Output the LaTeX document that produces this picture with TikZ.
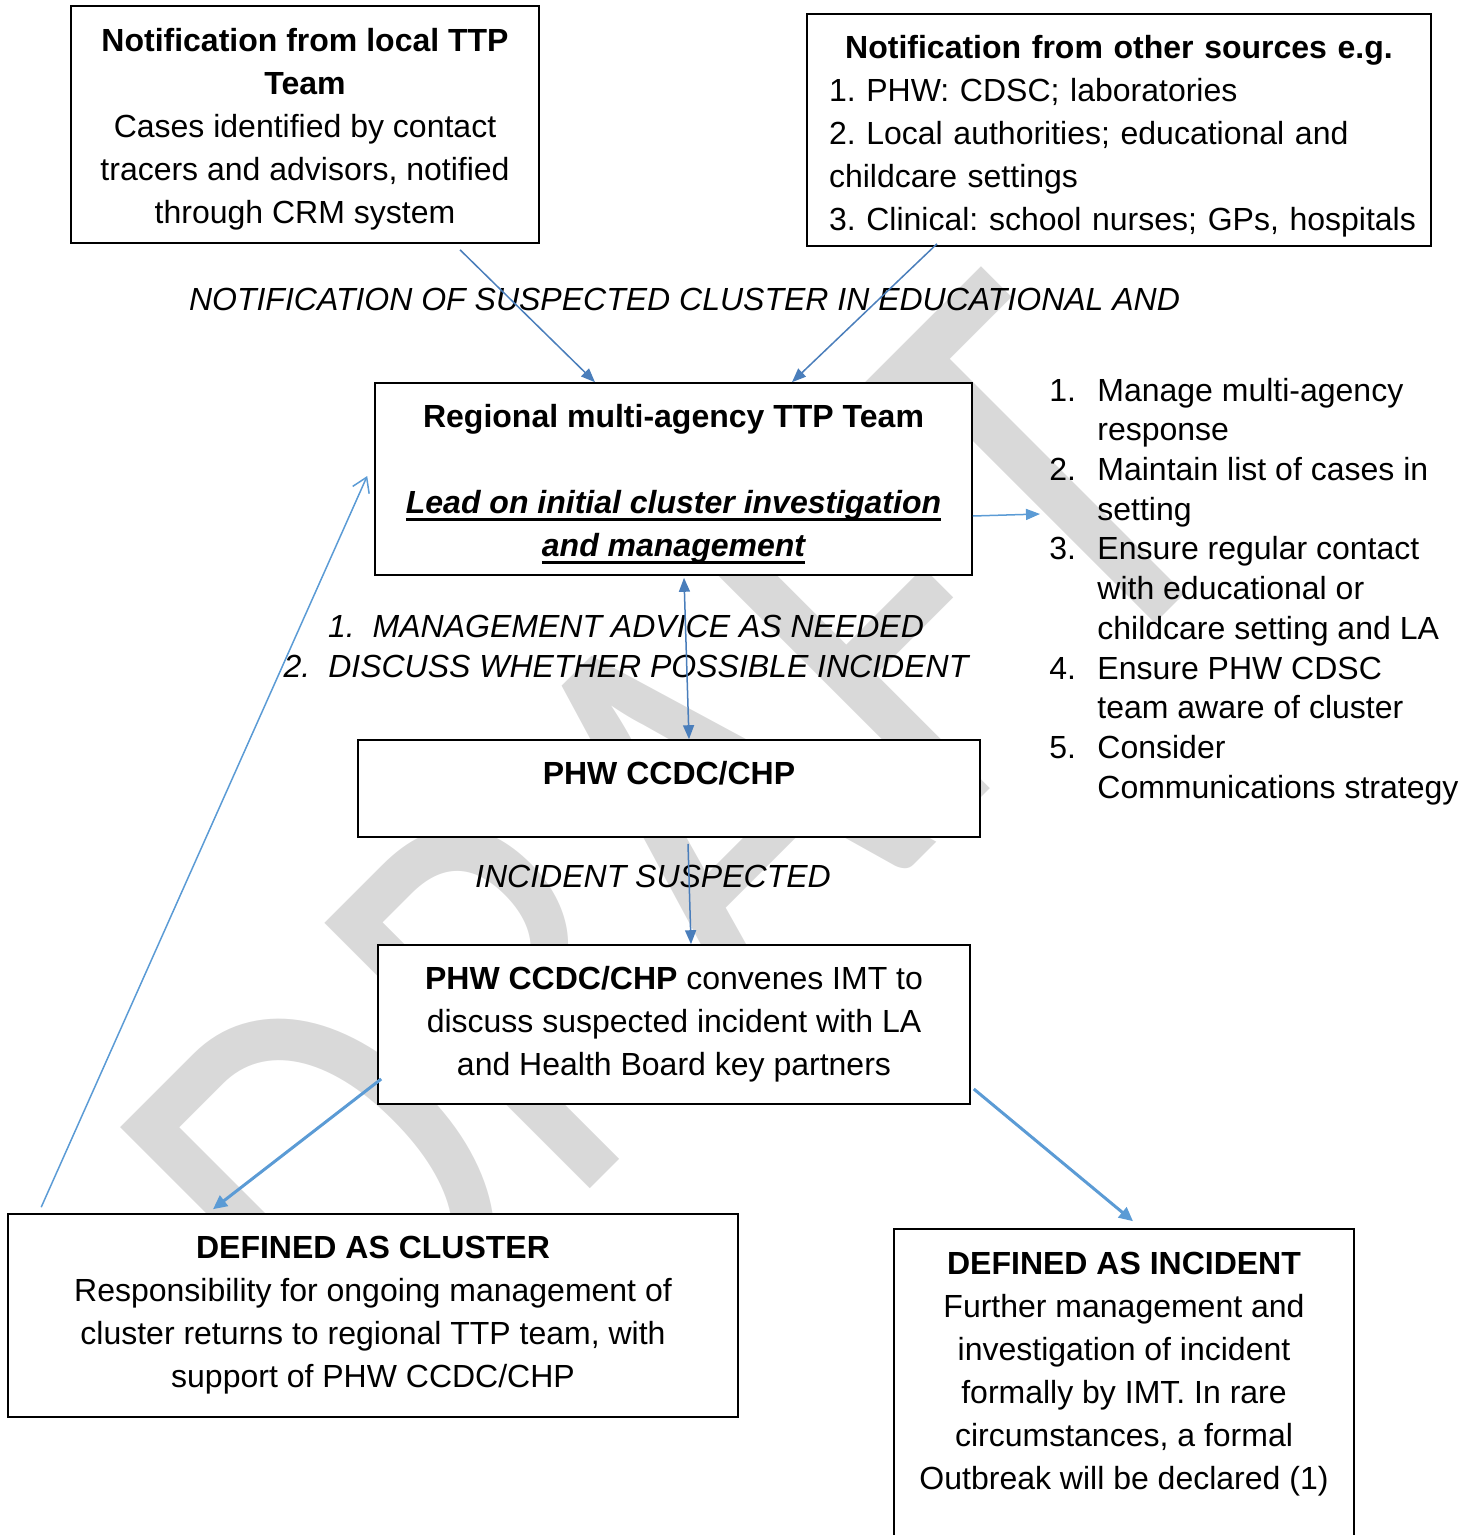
\documentclass[tikz,border=0pt]{standalone}
\usepackage{fontspec}
\setmainfont{Liberation Sans}
\newfontfamily\wmfont{Carlito}
\usetikzlibrary{arrows.meta}
\frenchspacing
\hyphenpenalty=10000

\definecolor{linkblue}{RGB}{74,126,187}
\definecolor{paleblue}{RGB}{91,155,213}

\tikzset{
  box/.style={draw, line width=0.8pt, fill=white, align=center, inner sep=0pt,
    font=\fontsize{16}{21.5}\selectfont},
  note/.style={align=center, inner sep=0pt, font=\fontsize{16}{21.5}\selectfont\itshape},
  thinarrow/.style={linkblue, line width=0.75pt, -{Triangle[length=7pt,width=5.5pt]}},
  twoway/.style={linkblue, line width=0.75pt,
    {Triangle[length=7pt,width=5.5pt]}-{Triangle[length=7pt,width=5.5pt]}},
  thickarrow/.style={paleblue, line width=1.5pt, -{Triangle[length=7pt,width=6.5pt]}},
}
\newsavebox{\leadbox}
\newcommand{\leadline}[1]{\textbf{\textit{\sbox{\leadbox}{#1}\rlap{\rule[-3.5pt]{\wd\leadbox}{1.5pt}}\usebox{\leadbox}}}}

\begin{document}
\begin{tikzpicture}[x=0.5pt, y=-0.5pt]
  \useasboundingbox (0,0) rectangle (1475,1535);
  \clip (0,0) rectangle (1475,1535);

  % watermark
  \node[anchor=base west, rotate=45, yscale=1.25, inner sep=0pt, text=black!15,
    font=\wmfont\fontsize{234}{234}\selectfont] (draft) at (363,1416) {DRAFT};

  \node[box, minimum width=234pt, minimum height=118.5pt] (local) at (305,124.5)
    {\rule{0pt}{16.7pt}\textbf{Notification from local TTP}\\\textbf{Team}\\Cases identified by contact\\
     tracers and advisors, notified\\through CRM system};

  \node[box, minimum width=312pt, minimum height=116pt, text width=290pt, align=left] (other) at (1119,130)
    {\rule{0pt}{17.5pt}\hfill\textbf{Notification from other sources e.g.}\hfill\null\\
     1. PHW: CDSC; laboratories\\
     2. Local authorities; educational and\\
     childcare settings\\
     \mbox{3. Clinical: school nurses; GPs, hospitals}};

  \node[note] (suspect) at (684.5,299) {NOTIFICATION OF SUSPECTED CLUSTER IN EDUCATIONAL AND};

  \node[box, minimum width=298.5pt, minimum height=96pt] (regional) at (673.5,479)
    {\rule{0pt}{16.7pt}\textbf{Regional multi-agency TTP Team}\\[21.5pt]
     \leadline{Lead on initial cluster investigation}\\\leadline{and management}};

  \node[anchor=north west, inner sep=0pt, font=\fontsize{16}{19.85}\selectfont] (tasks) at (1049,373)
    {\begin{tabular}{@{}p{24pt}@{}l@{}}
     1. & Manage multi-agency\\
        & response\\
     2. & Maintain list of cases in\\
        & setting\\
     3. & Ensure regular contact\\
        & with educational or\\
        & childcare setting and LA\\
     4. & Ensure PHW CDSC\\
        & team aware of cluster\\
     5. & Consider\\
        & Communications strategy
     \end{tabular}};
  \coordinate (tasksin) at (1040,514);

  \node[note, font=\fontsize{16}{20}\selectfont\itshape] (advice) at (626,646)
    {1.\hspace{9pt}MANAGEMENT ADVICE AS NEEDED\\2.\hspace{9pt}DISCUSS WHETHER POSSIBLE INCIDENT};

  \node[box, minimum width=311pt, minimum height=48.5pt] (ccdc) at (669,788.5)
    {\textbf{PHW CCDC/CHP}\\[-6pt]\mbox{}};

  \node[note] (suspected) at (653,876) {INCIDENT SUSPECTED};

  \node[box, minimum width=296pt, minimum height=79.5pt] (imt) at (674,1024.5)
    {\textbf{PHW CCDC/CHP} convenes IMT to\\discuss suspected incident with LA\\and Health Board key partners};

  \node[box, minimum width=365pt, minimum height=101.5pt] (cluster) at (373,1315.5)
    {\textbf{DEFINED AS CLUSTER}\\Responsibility for ongoing management of\\
     cluster returns to regional TTP team, with\\support of PHW CCDC/CHP};

  \node[box, minimum width=230pt, minimum height=163pt] (incident) at (1124,1392)
    {\textbf{DEFINED AS INCIDENT}\\Further management and\\investigation of incident\\
     formally by IMT. In rare\\circumstances, a formal\\Outbreak will be declared (1)\\\mbox{}};

  \draw[thinarrow] ([xshift=77.5pt, yshift=-3pt]local.south) -- ([xshift=-39.25pt]regional.north);
  \draw[thinarrow] ([xshift=-91pt, yshift=1.5pt]other.south) -- ([xshift=59.25pt]regional.north);
  \draw[paleblue, line width=0.75pt, -{Triangle[length=7pt,width=5.5pt]}] ([yshift=-18.5pt]regional.east) -- (tasksin);
  \draw[twoway] ([xshift=5.25pt, yshift=-1pt]regional.south) -- ([xshift=10pt]ccdc.north);
  \draw[thinarrow] ([xshift=9.5pt, yshift=-3pt]ccdc.south) -- ([xshift=8.5pt]imt.north);
  \draw[thickarrow] ([xshift=2pt, yshift=-27.25pt]imt.west) -- ([xshift=-80pt, yshift=2pt]cluster.north);
  \draw[thickarrow] ([xshift=1.5pt, yshift=-32.25pt]imt.east) -- ([xshift=4.5pt, yshift=3.5pt]incident.north);
  \draw[paleblue, line width=0.75pt, -{Straight Barb[length=7pt,width=9pt]}]
    ([xshift=17pt, yshift=3pt]cluster.north west) -- ([xshift=-3.5pt, yshift=1.5pt]regional.west);
\end{tikzpicture}
\end{document}
